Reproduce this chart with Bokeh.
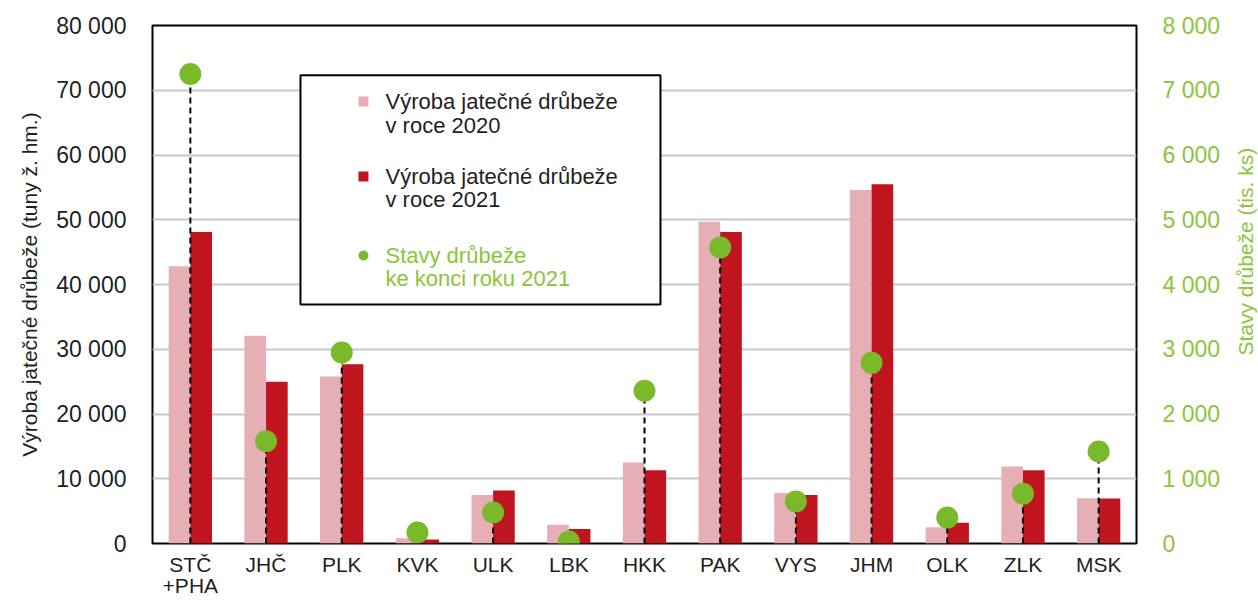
import math
from bokeh.plotting import figure
from bokeh.layouts import row
from bokeh.models import (Range1d, LinearAxis, FactorRange, CustomJSTickFormatter,
                          Label, BoxAnnotation, FixedTicker, ColumnDataSource)
from bokeh.transform import dodge
from bokeh.embed import file_html
from bokeh.resources import INLINE

# ---- data ----
kraje = ["STČ\n+PHA", "JHČ", "PLK", "KVK", "ULK", "LBK", "HKK",
         "PAK", "VYS", "JHM", "OLK", "ZLK", "MSK"]
vyroba_2020 = [42800, 32100, 25800, 800, 7500, 2900, 12500, 49700, 7800, 54600, 2500, 11900, 7000]
vyroba_2021 = [48100, 25000, 27700, 600, 8200, 2250, 11300, 48100, 7500, 55500, 3200, 11300, 6950]
stavy_2021 = [7250, 1580, 2950, 170, 480, 30, 2360, 4570, 650, 2790, 400, 770, 1420]

left_ticks = list(range(0, 80001, 10000))
right_ticks = list(range(0, 8001, 1000))

left_title = "Výroba jatečné drůbeže (tuny ž. hm.)"
right_title = "Stavy drůbeže (tis. ks)"
legend_texts = [["Výroba jatečné drůbeže", "v roce 2020"],
                ["Výroba jatečné drůbeže", "v roce 2021"],
                ["Stavy drůbeže", "ke konci roku 2021"]]

# ---- style ----
FONT = "Liberation Sans"
PINK = "#E6AFB5"
RED = "#C0141E"
GREEN = "#7AB929"
GREEN_TXT = "#8CC43C"
DARK = "#1F1F1F"

src = ColumnDataSource(dict(kraj=kraje, v2020=vyroba_2020, v2021=vyroba_2021, stavy=stavy_2021))

p = figure(x_range=FactorRange(*kraje), y_range=Range1d(0, 80000),
           width=1228, height=600, output_backend="svg", toolbar_location=None,
           min_border_left=152, min_border_right=92, min_border_top=25, min_border_bottom=57)
p.extra_y_ranges = {"stavy": Range1d(0, 8000)}

p.outline_line_color = "black"
p.outline_line_width = 2
p.xgrid.visible = False
p.ygrid.ticker = FixedTicker(ticks=left_ticks)
p.ygrid.grid_line_color = "#C8C8C8"
p.ygrid.grid_line_width = 2

fmt_code = "return tick.toFixed(0).replace(/\\B(?=(\\d{3})+(?!\\d))/g, ' ');"

ya = p.yaxis[0]
ya.ticker = FixedTicker(ticks=left_ticks)
ya.formatter = CustomJSTickFormatter(code=fmt_code)
ya.axis_label = left_title

yr = LinearAxis(y_range_name="stavy", ticker=FixedTicker(ticks=right_ticks),
                formatter=CustomJSTickFormatter(code=fmt_code))
p.add_layout(yr, "right")

for ax in (ya, yr):
    ax.axis_line_color = None
    ax.major_tick_line_color = None
    ax.minor_tick_line_color = None
    ax.major_label_text_font = FONT
    ax.major_label_text_font_size = "23px"
    ax.major_label_standoff = 20
    ax.axis_label_text_font = FONT
    ax.axis_label_text_font_size = "21px"
    ax.axis_label_text_font_style = "normal"
ya.axis_label_standoff = 12
ya.major_label_text_color = DARK
ya.axis_label_text_color = DARK
yr.major_label_text_color = GREEN_TXT

xa = p.xaxis[0]
xa.axis_line_color = None
xa.major_tick_line_color = None
xa.minor_tick_line_color = None
xa.major_label_text_font = FONT
xa.major_label_text_font_size = "21px"
xa.major_label_text_line_height = 0.95
xa.major_label_text_color = DARK
xa.major_label_standoff = 3

p.vbar(x=dodge("kraj", -0.143, range=p.x_range), top="v2020", width=0.286,
       source=src, fill_color=PINK, line_color=None)
p.vbar(x=dodge("kraj", 0.143, range=p.x_range), top="v2021", width=0.286,
       source=src, fill_color=RED, line_color=None)
p.segment(x0="kraj", y0=0, x1="kraj", y1="stavy", y_range_name="stavy", source=src,
          line_color="black", line_width=2, line_dash="6 4")
p.scatter(x="kraj", y="stavy", y_range_name="stavy", source=src, size=22,
          fill_color=GREEN, line_color=None)

# ---- manual legend (layout positions, not data) ----
box = BoxAnnotation(left=1.955, right=6.711, top=72300, bottom=36900,
                    fill_color="white", fill_alpha=1.0, line_color="black",
                    line_alpha=1.0, line_width=2)
p.add_layout(box)
text_x = 3.078
mark_x = 2.787
item_y = [(68263, 64556), (56680, 53127), (44479, 40927)]
colors = [DARK, DARK, GREEN_TXT]
for (l1, l2), (y1, y2), c in zip(legend_texts, item_y, colors):
    for t, yy in ((l1, y1), (l2, y2)):
        p.add_layout(Label(x=text_x, y=yy, text=t, text_font=FONT, text_font_size="22px",
                           text_baseline="middle", text_color=c))
p.scatter(x=[mark_x, mark_x], y=[item_y[0][0], item_y[1][0]], marker="square", size=10,
          fill_color=[PINK, RED], line_color=None, level="overlay")
p.scatter(x=[mark_x], y=[item_y[2][0]], marker="circle", size=10,
          fill_color=GREEN, line_color=None, level="overlay")

# ---- right axis title (reads bottom-to-top), in a narrow side panel ----
side = figure(width=30, height=600, x_range=Range1d(0, 30), y_range=Range1d(0, 600),
              x_axis_type=None, y_axis_type=None, output_backend="svg", toolbar_location=None,
              min_border_left=0, min_border_right=0, min_border_top=0, min_border_bottom=0)
side.outline_line_color = None
side.grid.visible = False
side.add_layout(Label(x=17, y=338, text=right_title, angle=math.pi / 2,
                      text_font=FONT, text_font_size="21px", text_color=GREEN_TXT,
                      text_align="center", text_baseline="middle"))

layout = row(p, side)
open("out.html", "w").write(file_html(layout, INLINE))
